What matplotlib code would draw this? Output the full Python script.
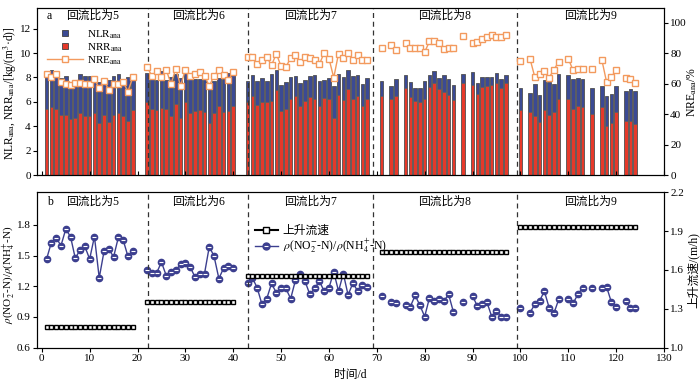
import matplotlib
matplotlib.use('Agg')
import matplotlib.pyplot as plt
from matplotlib.lines import Line2D

plt.rcParams['font.family'] = ['Liberation Serif', 'Noto Sans CJK SC']
plt.rcParams['mathtext.fontset'] = 'stix'
plt.rcParams['font.size'] = 8
plt.rcParams['axes.linewidth'] = 0.8

# ---- data ----
bar_day = [1, 2, 3, 4, 5, 6, 7, 8, 9, 10, 11, 12, 13, 14, 15, 16, 17, 18, 19,
           22, 23, 24, 25, 26, 27, 28, 29, 30, 31, 32, 33, 34, 35, 36, 37, 38, 39, 40,
           43, 44, 45, 46, 47, 48, 49, 50, 51, 52, 53, 54, 55, 56, 57, 58, 59, 60,
           61, 62, 63, 64, 65, 66, 67, 68,
           71, 73, 74, 76, 77, 78, 79, 80, 81, 82, 83, 84, 85, 86, 88,
           90, 91, 92, 93, 94, 95, 96, 97,
           100, 102, 103, 104, 105, 106, 107, 108, 110, 111, 112, 113, 115,
           117, 118, 119, 120, 122, 123, 124]

nlr = [8.0, 8.6, 8.1, 7.95, 8.1, 7.6, 7.7, 8.3, 8.1, 8.1, 7.9, 7.65, 7.8, 7.8, 8.1, 8.3, 7.7, 8.0, 8.15,
       8.4, 7.9, 7.8, 8.5, 7.8, 8.0, 8.3, 7.95, 8.45, 7.85, 7.85, 7.85, 7.85, 7.4, 7.7, 7.95, 7.85, 8.4, 8.2,
       7.69, 8.18, 7.74, 7.96, 7.69, 8.32, 8.59, 7.36, 7.64, 8.04, 8.13, 7.58, 7.77, 8.13, 8.24, 7.72,
       7.77, 7.99, 7.28, 8.26, 8.04, 8.64, 8.13, 8.18, 7.5, 7.96,
       7.69, 7.28, 7.85, 8.18, 7.64, 7.17, 7.17, 7.72, 8.18, 8.51, 7.96, 8.18, 7.85, 7.42, 8.32,
       8.45, 7.58, 8.04, 8.04, 8.04, 8.37, 7.91, 8.24,
       7.17, 6.74, 7.47, 6.6, 7.77, 7.64, 7.44, 8.32, 8.18, 7.85, 7.99, 7.9, 7.17,
       7.3, 6.52, 6.63, 7.34, 6.87, 7.04, 6.9]

nrr = [5.4, 5.55, 5.4, 4.9, 4.9, 4.6, 4.65, 5.05, 4.85, 4.85, 5.05, 4.3, 4.9, 4.35, 4.9, 5.05, 4.85, 4.45, 5.3,
       6.0, 5.4, 5.3, 5.5, 5.45, 4.85, 5.8, 4.65, 5.95, 5.1, 5.25, 5.3, 5.15, 4.3, 5.05, 5.65, 5.2, 5.25, 5.65,
       5.95, 6.46, 5.73, 6.0, 6.0, 6.05, 6.95, 5.29, 5.45, 6.22, 6.44, 5.67, 6.11, 6.41, 6.22, 5.67,
       6.3, 6.22, 4.69, 6.6, 6.19, 7.04, 6.22, 6.49, 5.67, 6.27,
       6.49, 6.22, 6.49, 7.14, 6.41, 6.05, 6.0, 6.27, 7.23, 7.55, 7.04, 6.82, 6.6, 6.19, 7.58,
       7.42, 6.68, 7.23, 7.31, 7.42, 7.58, 7.17, 7.58,
       5.37, 5.15, 4.85, 4.36, 5.32, 4.96, 5.18, 6.22, 6.27, 5.4, 5.64, 5.59, 4.99,
       5.56, 4.0, 4.3, 5.13, 4.42, 4.47, 4.2]

nre = [66, 64, 66, 61, 60, 59, 60.5, 60.5, 60, 60, 63, 57, 62, 55.8, 60, 60, 61, 54.8, 64,
       71, 65, 68, 64.5, 69, 59.8, 69.8, 58.5, 69.2, 65, 66.5, 67.8, 65, 58.5, 65, 69.2, 65.4, 62.6, 67.5,
       77.4, 77.4, 73, 75.3, 77.4, 72, 79.6, 71.3, 70.9, 76.8, 78.5, 74.2, 77.4, 77, 75.3, 72.6,
       80.3, 76.4, 63.9, 79.6, 76.8, 80.3, 75.7, 78.5, 75.3, 75.3,
       83.3, 85.5, 81.8, 86.6, 83.6, 83.6, 83.3, 80.7, 87.7, 87.7, 86.6, 82.9, 83.6, 83.3, 91.0,
       86.9, 87.5, 89.1, 90.4, 91.9, 90.8, 90.8, 91.9,
       74.8, 76.3, 64.4, 66.1, 68.1, 63.9, 69.2, 74.2, 76.4, 68.7, 69.8, 69.8, 69.4,
       75.7, 61.1, 64.1, 69.2, 63.7, 62.8, 60.4]

ratio = [1.466, 1.628, 1.677, 1.596, 1.758, 1.687, 1.473, 1.557, 1.59, 1.466, 1.687, 1.282, 1.541,
         1.567, 1.486, 1.68, 1.654, 1.492, 1.547,
         1.356, 1.33, 1.33, 1.437, 1.304, 1.337, 1.356, 1.415, 1.427, 1.389, 1.291, 1.317, 1.324,
         1.589, 1.492, 1.275, 1.379, 1.402, 1.379,
         1.227, 1.282, 1.185, 1.023, 1.078, 1.227, 1.136, 1.178, 1.178, 1.078, 1.259, 1.324, 1.249,
         1.12, 1.178, 1.249, 1.152, 1.185, 1.34, 1.152, 1.324, 1.113, 1.233, 1.152, 1.217, 1.191,
         1.104, 1.045, 1.039, 1.013, 1.0, 1.11, 1.013, 0.903, 1.087, 1.052, 1.071, 1.055, 1.12, 0.948,
         1.045, 1.104, 1.006, 1.023, 1.045, 0.903, 0.958, 0.903, 0.903,
         0.99, 0.941, 1.022, 1.055, 1.152, 0.99, 0.935, 1.071, 1.071, 1.032, 1.12, 1.185, 1.185,
         1.185, 1.195, 1.045, 1.0, 1.055, 0.99, 0.984]

# upflow velocity, one constant value per reflux stage
stage_first = [1, 22, 43, 71, 100]
stage_last = [19, 40, 68, 97, 124]
upflow = [1.16, 1.35, 1.55, 1.74, 1.93]

stage_names = ['回流比为5', '回流比为6', '回流比为7', '回流比为8', '回流比为9']
stage_bounds = [22.2, 43.1, 69.2, 99.3]

blue = '#3b4a94'
red = '#e6392a'
orange = '#f39a5e'
navy = '#3c3f8f'


def runs(days, vals):
    # split into pieces of consecutive days so lines break at gaps
    out = []
    start = 0
    for i in range(1, len(days) + 1):
        if i == len(days) or days[i] - days[i - 1] != 1:
            out.append((days[start:i], vals[start:i]))
            start = i
    return out


fig = plt.figure(figsize=(7, 3.85), dpi=100)
ax1 = fig.add_axes([37 / 700, 1 - 175 / 385, 627 / 700, 167 / 385])
ax2 = fig.add_axes([37 / 700, 1 - 347.5 / 385, 627 / 700, 155.2 / 385])

# ---- panel a ----
ax1.bar(bar_day, nlr, width=0.75, color=blue, edgecolor='#505050', lw=0.6)
ax1.bar(bar_day, nrr, width=0.75, color=red, edgecolor='#606060', lw=0.6)
ax1.set_xlim(-1, 130)
ax1.set_ylim(0, 13.7)
ax1.set_yticks(range(0, 13, 2))
ax1.set_xticks(range(0, 131, 10))
ax1.tick_params(axis='x', direction='in', length=3, labelbottom=False)
ax1.tick_params(axis='y', direction='out', length=3, labelsize=8, pad=1.5)
ax1.set_ylabel(r'NLR$_{\rm ana}$, NRR$_{\rm ana}$/[kg/(m$^3$·d)]', fontsize=8.3)
ax1.yaxis.set_label_coords(-0.029, 0.49)

ax1r = ax1.twinx()
for d, v in runs(bar_day, nre):
    ax1r.plot(d, v, color=orange, lw=1, marker='s', ms=4, mfc='white', mec=orange, mew=1)
ax1r.set_ylim(0, 13.7 * 8)
ax1r.set_yticks(range(0, 101, 20))
ax1r.tick_params(axis='y', direction='out', length=3, labelsize=8, pad=1.5)
ax1r.set_ylabel(r'NRE$_{\rm ana}$/%', fontsize=8.5)
ax1r.yaxis.set_label_coords(1.035, 0.5)

h_a = [Line2D([], [], ls='none', marker='s', ms=4.5, mfc=blue, mec='#404040', mew=0.6),
       Line2D([], [], ls='none', marker='s', ms=4.5, mfc=red, mec='#404040', mew=0.6),
       Line2D([], [], color=orange, lw=1, marker='s', ms=4, mfc='white', mec=orange, mew=1)]
ax1r.legend(h_a, [r'NLR$_{\rm ana}$', r'NRR$_{\rm ana}$', r'NRE$_{\rm ana}$'], loc='upper left',
            bbox_to_anchor=(0.0, 0.94), frameon=False, fontsize=8, handlelength=3.2,
            labelspacing=0.05, handletextpad=0.4)

# ---- panel b ----
for d, v in runs(bar_day, ratio):
    ax2.plot(d, v, color=navy, lw=1, marker='o', ms=4.5, mfc=navy, mec=navy)
    ax2.plot(d, v, ls='none', marker='_', ms=2.6, mew=0.8, color='white')
ax2.set_xlim(-1, 130)
ax2.set_ylim(0.6, 2.12)
ax2.set_yticks([0.6, 0.9, 1.2, 1.5, 1.8])
ax2.set_xticks(range(0, 131, 10))
ax2.tick_params(direction='out', length=3, labelsize=8, pad=1.5)
ax2.set_ylabel(r'$\rho$(NO$_2^{-}$-N)/$\rho$(NH$_4^{+}$-N)', fontsize=8)
ax2.yaxis.set_label_coords(-0.031, 0.47)
ax2.set_xlabel('时间/d', fontsize=8.5)
ax2.xaxis.set_label_coords(0.5, -0.14)

ax2r = ax2.twinx()
for a, b, u in zip(stage_first, stage_last, upflow):
    days = list(range(a, b + 1))
    ax2r.plot(days, [u] * len(days), color='black', lw=1.2, marker='s', ms=3.4,
              mfc='white', mec='black', mew=1)
ax2r.set_ylim(1.0, 2.2)
ax2r.set_yticks([1.0, 1.3, 1.6, 1.9, 2.2])
ax2r.tick_params(direction='out', length=3, labelsize=8, pad=1.5)
ax2r.set_ylabel('上升流速/(m/h)', fontsize=8.5)
ax2r.yaxis.set_label_coords(1.036, 0.5)

h_b = [Line2D([], [], color='black', lw=1.5, marker='s', ms=4, mfc='white', mec='black', mew=1),
       (Line2D([], [], color=navy, lw=1, marker='o', ms=5, mfc=navy, mec=navy),
        Line2D([], [], ls='none', marker='_', ms=3, mew=0.8, color='white'))]
ax2r.legend(h_b, ['上升流速', r'$\rho$(NO$_2^{-}$-N)/$\rho$(NH$_4^{+}$-N)'], loc='upper left',
            bbox_to_anchor=(0.33, 0.86), frameon=False, fontsize=8.5, handlelength=2,
            labelspacing=0.0, handletextpad=0.4)

# ---- shared decorations ----
edges = [-1] + stage_bounds + [130]
for ax, ty in [(ax1, 0.955), (ax2, 0.94)]:
    for xb in stage_bounds:
        ax.axvline(xb, color='#333333', lw=0.9, ls=(0, (4, 3)))
    for i, name in enumerate(stage_names):
        ax.text((edges[i] + edges[i + 1]) / 2, ty, name, transform=ax.get_xaxis_transform(),
                ha='center', va='center', fontsize=8.5)
ax1.text(0.0155, 0.955, 'a', transform=ax1.transAxes, ha='left', va='center', fontsize=8.5)
ax2.text(0.0155, 0.94, 'b', transform=ax2.transAxes, ha='left', va='center', fontsize=8.5)

fig.savefig('out.png', dpi=100)
